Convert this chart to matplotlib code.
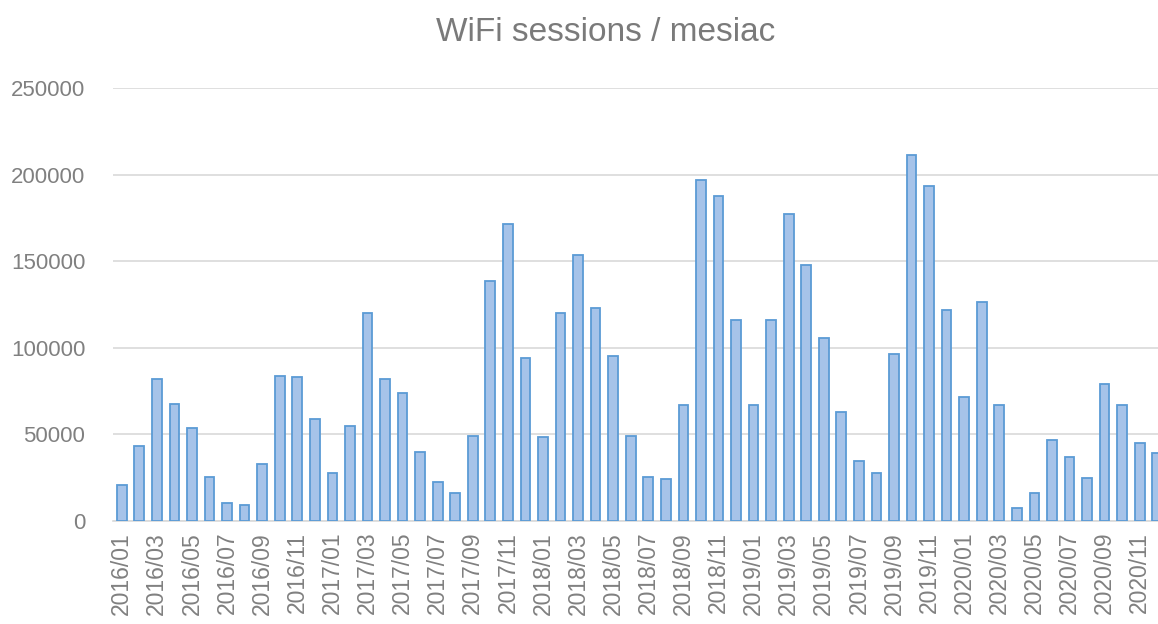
import matplotlib.pyplot as plt
import numpy as np

months = [f"{y}/{m:02d}" for y in range(2016, 2021) for m in range(1, 13)]
sessions = [
    20600, 43200, 81900, 67700, 53600, 25400, 10400, 9200, 32900, 83800, 82900, 58500,
    27300, 54600, 119800, 81900, 73500, 39600, 22500, 16000, 49000, 138600, 171700, 94200,
    48100, 119800, 153600, 122700, 95000, 49000, 25200, 24200, 66700, 196900, 187800, 115700,
    66700, 115700, 177300, 147900, 105400, 62900, 34600, 27300, 96100, 211100, 193400, 121500,
    71500, 126100, 66700, 7300, 16000, 46900, 36700, 24400, 79000, 66700, 45000, 39400,
]
y_ticks = [0, 50000, 100000, 150000, 200000, 250000]

text_grey = '#808080'
grid_grey = '#d9d9d9'

plt.rcParams['font.family'] = ['Liberation Sans', 'DejaVu Sans']

fig = plt.figure(figsize=(11.58, 6.24), dpi=100)
# plot area runs past the right edge, like the cropped original
ax = fig.add_axes([113 / 1158, 103.3 / 624, 1053 / 1158, 432.7 / 624])

x = np.arange(len(months))
ax.bar(x, sessions, width=0.55, color='#a6c3e9', edgecolor='#5b9bd5',
       linewidth=1.3, zorder=3)

ax.set_xlim(-0.5, len(months) - 0.5)
ax.set_ylim(0, 250000)
ax.set_yticks(y_ticks)
ax.set_yticklabels([str(v) for v in y_ticks])
ax.set_xticks(x[::2])
ax.set_xticklabels(months[::2], rotation=90)

ax.grid(axis='y', color=grid_grey, linewidth=1.2, zorder=0)
ax.tick_params(axis='y', length=0, colors=text_grey, labelsize=16, pad=20)
ax.tick_params(axis='x', length=0, colors=text_grey, labelsize=16.5, pad=8)
for side in ['top', 'right', 'left']:
    ax.spines[side].set_visible(False)
ax.spines['bottom'].set_color(grid_grey)
ax.spines['bottom'].set_linewidth(1.2)

fig.text(0.523, 0.948, 'WiFi sessions / mesiac', ha='center', va='center',
         fontsize=24, color='#7a7a7a')

fig.savefig('out.png', dpi=100)
